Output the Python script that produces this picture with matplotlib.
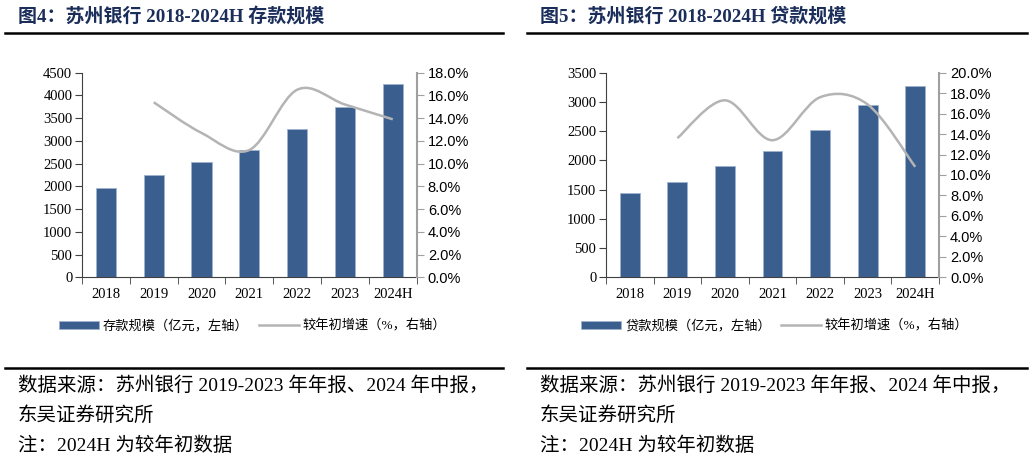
import numpy as np
import matplotlib.pyplot as plt
from matplotlib.path import Path
from matplotlib.patches import PathPatch
from matplotlib.lines import Line2D
from matplotlib.patches import Patch

years = ['2018', '2019', '2020', '2021', '2022', '2023', '2024H']
deposits = [1955, 2245, 2525, 2805, 3255, 3750, 4260]
deposit_growth = [15.4, 12.7, 11.2, 16.5, 15.2, 13.9]   # from 2019
loans = [1435, 1625, 1900, 2155, 2525, 2955, 3265]
loan_growth = [13.6, 17.3, 13.4, 17.6, 16.9, 10.8]      # from 2019

BAR = '#3a5f8f'
LINE = '#b4b4b4'
CJK = ['Liberation Serif', 'Noto Sans CJK SC']
plt.rcParams['font.family'] = CJK


def smooth_path(xs, ys):
    # excel-style smoothed line: bezier through the points
    pts = np.column_stack([xs, ys]).astype(float)
    verts = [pts[0]]
    codes = [Path.MOVETO]
    n = len(pts)
    for i in range(n - 1):
        p0 = pts[i - 1] if i > 0 else pts[i]
        p1 = pts[i]
        p2 = pts[i + 1]
        p3 = pts[i + 2] if i + 2 < n else pts[i + 1]
        c1 = p1 + (p2 - p0) / 6.0
        c2 = p2 - (p3 - p1) / 6.0
        verts += [c1, c2, p2]
        codes += [Path.CURVE4] * 3
    return Path(verts, codes)


def panel(rect, bars, growth, ymax, pmax, bar_label, title, tx, lx):
    ax = fig.add_axes(rect)
    x = np.arange(len(years))
    ax.bar(x, bars, width=0.42, color=BAR, edgecolor='#9fb3cf', linewidth=0.6, zorder=2)
    ax.set_xlim(-0.5, len(years) - 0.5)
    ax.set_ylim(0, ymax)
    ax.set_yticks(np.arange(0, ymax + 1, 500))
    ax.set_xticks(x)
    ax.set_xticklabels(years)
    ax.set_xticks(np.arange(-0.5, len(years), 1), minor=True)
    ax.tick_params(axis='x', which='major', length=0, labelsize=10.5, pad=8)
    ax.tick_params(axis='x', which='minor', length=5, color='#404040', direction='out')
    ax.tick_params(axis='y', length=5, color='#404040', labelsize=10.5, pad=2)
    for s in ['top', 'right']:
        ax.spines[s].set_visible(False)
    ax.spines['left'].set_color('#404040')
    ax.spines['bottom'].set_color('#404040')

    ax2 = ax.twinx()
    ax2.set_ylim(0, pmax)
    ax2.set_yticks(np.arange(0, pmax + 0.1, 2))
    ax2.set_yticklabels(['%.1f%%' % v for v in np.arange(0, pmax + 0.1, 2)],
                        family='Liberation Sans')
    ax2.tick_params(axis='y', length=5, color='#a0a0a0', labelsize=10.5, pad=3)
    for s in ['top', 'left', 'bottom']:
        ax2.spines[s].set_visible(False)
    ax2.spines['right'].set_color('#a0a0a0')
    ax2.spines['right'].set_linewidth(1.5)
    xs = np.arange(1, len(years))
    ax2.add_patch(PathPatch(smooth_path(xs, growth), facecolor='none',
                            edgecolor=LINE, linewidth=1.8, zorder=3))

    handles = [Patch(facecolor=BAR, edgecolor='#9fb3cf', linewidth=0.6),
               Line2D([], [], color=LINE, linewidth=1.8)]
    fig.legend(handles, [bar_label, '较年初增速（%，右轴）'], loc='center',
               bbox_to_anchor=(lx, 1 - 326 / 463), ncol=2, frameon=False,
               fontsize=9.5, handlelength=3.0, handleheight=0.6,
               handletextpad=0.3, columnspacing=0.8)

    fig.text(tx, 1 - 16 / 463, title, fontsize=13.7, fontweight='bold',
             color='#1b2e5a', va='center', ha='left')


fig = plt.figure(figsize=(10.32, 4.63), dpi=100)

top = 1 - 72.7 / 463
bot = 1 - 277.3 / 463
panel([82 / 1032, bot, (416.7 - 82) / 1032, top - bot], deposits, deposit_growth,
      4500, 18, '存款规模（亿元，左轴）', '图4：苏州银行 2018-2024H 存款规模',
      18 / 1032, 253 / 1032)
panel([606 / 1032, bot, (939 - 606) / 1032, top - bot], loans, loan_growth,
      3500, 20, '贷款规模（亿元，左轴）', '图5：苏州银行 2018-2024H 贷款规模',
      540 / 1032, 775 / 1032)

# rules under titles and above notes
for x0, x1 in [(5, 503), (527, 1027)]:
    fig.add_artist(Line2D([x0 / 1032, x1 / 1032], [1 - 33 / 463] * 2,
                          color='black', linewidth=1.8))
    fig.add_artist(Line2D([x0 / 1032, x1 / 1032], [1 - 368 / 463] * 2,
                          color='black', linewidth=1.8))

notes = ['数据来源：苏州银行 2019-2023 年年报、2024 年中报，', '东吴证券研究所',
         '注：2024H 为较年初数据']
note_y = [386, 416, 446]
for nx in [18, 540]:
    for t, y in zip(notes, note_y):
        fig.text(nx / 1032, 1 - y / 463, t, fontsize=14, va='center', ha='left')

fig.savefig('out.png', dpi=100)
